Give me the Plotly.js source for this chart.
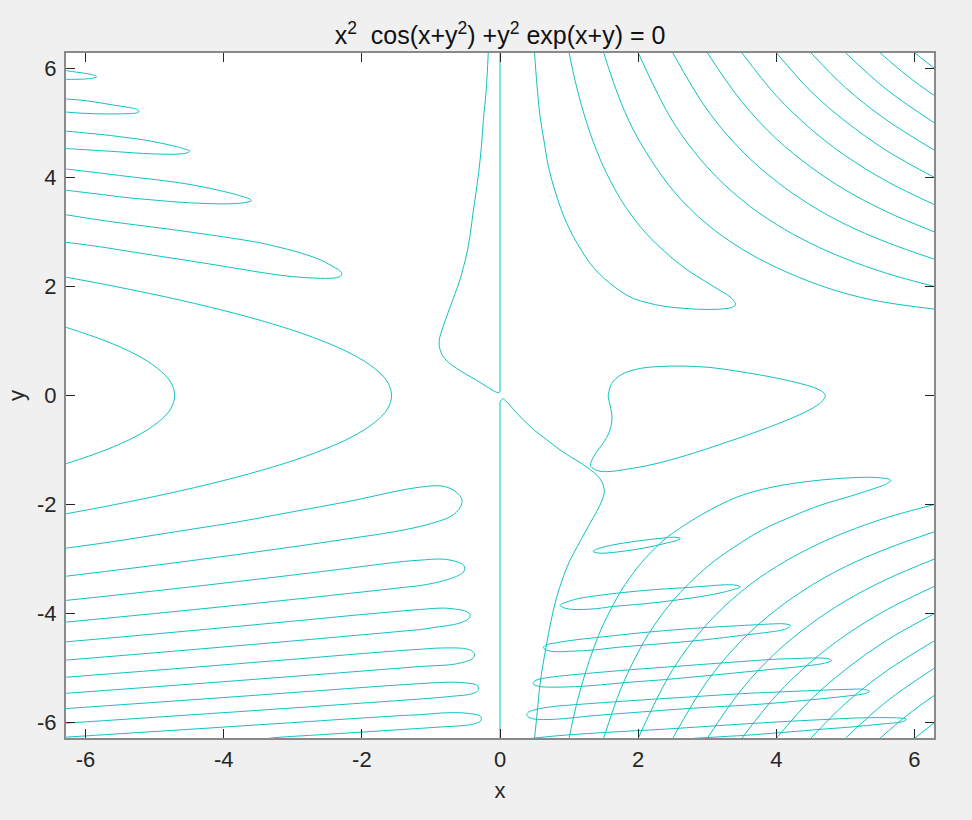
<!DOCTYPE html>
<html><head><meta charset="utf-8">
<script src="https://cdn.plot.ly/plotly-3.0.1.min.js"></script>
<style>html,body{margin:0;padding:0;background:#f0f0f0}</style></head>
<body><div id="chart" style="width:972px;height:820px"></div>
<script>
const titleText = "x<sup>2</sup>  cos(x+y<sup>2</sup>) +y<sup>2</sup> exp(x+y) = 0";
const tickValues = [-6,-4,-2,0,2,4,6];
const tickLabels = ["-6","-4","-2","0","2","4","6"];

const arcA_x = [-6.28,-5.71,-5.27,-4.96,-4.77,-4.71,-4.77,-4.96,-5.27,-5.71,-6.28];
const arcA_y = [1.25,1,0.75,0.5,0.25,0,-0.25,-0.5,-0.75,-1,-1.25];
const arcB_x = [-6.28,-5.57,-4.63,-3.82,-3.13,-2.57,-2.13,-1.82,-1.63,-1.57,-1.63,-1.82,-2.13,-2.57,-3.13,-3.82,-4.63,-5.57,-6.28];
const arcB_y = [2.17,2,1.75,1.5,1.25,1,0.75,0.5,0.25,0,-0.25,-0.5,-0.75,-1,-1.25,-1.5,-1.75,-2,-2.17];

const upLobe1_x = [-6.28,-5.8,-5.4,-4.9,-4.44,-3.95,-3.47,-3.2,-2.99,-2.78,-2.6,-2.46,-2.37,-2.31,-2.29,-2.32,-2.41,-2.57,-2.75,-2.98,-3.23,-3.47,-3.95,-4.44,-4.9,-5.4,-5.8,-6.28];
const upLobe1_y = [2.81,2.73,2.65,2.55,2.46,2.36,2.26,2.21,2.18,2.16,2.15,2.15,2.16,2.19,2.24,2.29,2.36,2.47,2.56,2.65,2.73,2.8,2.9,2.99,3.07,3.15,3.22,3.315];
const upLobe2_x = [-6.28,-5.85,-5.4,-5.05,-4.68,-4.4,-4.2,-4.02,-3.86,-3.74,-3.65,-3.6,-3.62,-3.7,-3.86,-4.02,-4.2,-4.44,-4.68,-5.05,-5.4,-5.85,-6.28];
const upLobe2_y = [3.765,3.7,3.63,3.59,3.55,3.53,3.52,3.515,3.52,3.53,3.55,3.57,3.6,3.64,3.7,3.75,3.8,3.86,3.91,3.97,4.02,4.09,4.155];
const upLobe3_x = [-6.28,-5.95,-5.64,-5.4,-5.16,-4.95,-4.73,-4.6,-4.52,-4.49,-4.56,-4.73,-4.95,-5.16,-5.4,-5.64,-5.95,-6.28];
const upLobe3_y = [4.53,4.505,4.48,4.46,4.44,4.43,4.425,4.435,4.455,4.485,4.52,4.58,4.64,4.69,4.73,4.77,4.81,4.85];
const upLobe4_x = [-6.28,-6.08,-5.89,-5.72,-5.56,-5.4,-5.28,-5.23,-5.23,-5.28,-5.4,-5.56,-5.72,-5.89,-6.08,-6.28];
const upLobe4_y = [5.2,5.18,5.17,5.165,5.165,5.17,5.18,5.2,5.225,5.26,5.29,5.32,5.355,5.39,5.42,5.44];
const upLobe5_x = [-6.28,-6.15,-6.03,-5.9,-5.84,-5.88,-5.98,-6.12,-6.28];
const upLobe5_y = [5.8,5.8,5.805,5.82,5.845,5.875,5.905,5.93,5.96];

const lowLobe1_x = [-6.28,-5.6,-5,-4.4,-3.8,-3.2,-2.6,-2.1,-1.7,-1.4,-1.15,-0.92,-0.8,-0.68,-0.6,-0.55,-0.57,-0.63,-0.73,-0.87,-1.15,-1.4,-1.7,-2.1,-2.6,-3.2,-3.8,-4.4,-5,-5.6,-6.28];
const lowLobe1_y = [-2.8,-2.68,-2.56,-2.44,-2.32,-2.18,-2.04,-1.92,-1.81,-1.73,-1.68,-1.655,-1.67,-1.73,-1.81,-1.92,-2.04,-2.14,-2.23,-2.3,-2.4,-2.468,-2.535,-2.61,-2.704,-2.812,-2.917,-3.018,-3.116,-3.21,-3.315];
const lowLobe2_x = [-6.28,-5.6,-5,-4.4,-3.8,-3.2,-2.6,-2.1,-1.7,-1.4,-1.15,-0.87,-0.72,-0.6,-0.53,-0.51,-0.53,-0.6,-0.74,-0.92,-1.15,-1.4,-1.7,-2.1,-2.6,-3.2,-3.8,-4.4,-5,-5.6,-6.28];
const lowLobe2_y = [-3.759,-3.667,-3.585,-3.5,-3.413,-3.324,-3.233,-3.154,-3.09,-3.045,-3.02,-3,-3.02,-3.06,-3.11,-3.17,-3.24,-3.3,-3.37,-3.43,-3.486,-3.521,-3.564,-3.619,-3.688,-3.768,-3.847,-3.924,-4,-4.074,-4.157];
const lowLobe3_x = [-6.28,-5.6,-5,-4.4,-3.8,-3.2,-2.6,-2.1,-1.7,-1.4,-1.15,-0.82,-0.64,-0.51,-0.45,-0.43,-0.45,-0.51,-0.66,-0.87,-1.15,-1.4,-1.7,-2.1,-2.6,-3.2,-3.8,-4.4,-5,-5.6,-6.28];
const lowLobe3_y = [-4.519,-4.443,-4.375,-4.306,-4.236,-4.164,-4.091,-4.03,-3.985,-3.95,-3.925,-3.9,-3.92,-3.95,-3.99,-4.04,-4.09,-4.14,-4.2,-4.24,-4.293,-4.322,-4.357,-4.402,-4.459,-4.525,-4.591,-4.656,-4.72,-4.783,-4.854];
const lowLobe4_x = [-6.28,-5.6,-5,-4.4,-3.8,-3.2,-2.6,-2.1,-1.7,-1.4,-1.15,-0.92,-0.72,-0.53,-0.43,-0.385,-0.37,-0.385,-0.43,-0.55,-0.72,-0.92,-1.15,-1.4,-1.7,-2.1,-2.6,-3.2,-3.8,-4.4,-5,-5.6,-6.28];
const lowLobe4_y = [-5.167,-5.101,-5.042,-4.982,-4.921,-4.86,-4.798,-4.745,-4.705,-4.675,-4.655,-4.635,-4.63,-4.64,-4.67,-4.71,-4.76,-4.81,-4.85,-4.9,-4.94,-4.955,-4.971,-4.996,-5.026,-5.066,-5.115,-5.173,-5.231,-5.288,-5.344,-5.4,-5.463];
const lowLobe5_x = [-6.28,-5.6,-5,-4.4,-3.8,-3.2,-2.6,-2.1,-1.7,-1.4,-1.15,-0.88,-0.63,-0.45,-0.36,-0.32,-0.31,-0.32,-0.36,-0.47,-0.63,-0.88,-1.15,-1.4,-1.7,-2.1,-2.6,-3.2,-3.8,-4.4,-5,-5.6,-6.28];
const lowLobe5_y = [-5.743,-5.683,-5.63,-5.577,-5.523,-5.468,-5.413,-5.367,-5.33,-5.305,-5.285,-5.265,-5.26,-5.28,-5.3,-5.33,-5.37,-5.41,-5.45,-5.49,-5.51,-5.54,-5.568,-5.59,-5.617,-5.652,-5.697,-5.749,-5.801,-5.852,-5.903,-5.954,-6.011];
const lowLobe6_x = [-6.28,-5.6,-5,-4.4,-3.8,-3.2,-2.6,-2.1,-1.7,-1.4,-1.15,-0.85,-0.58,-0.41,-0.32,-0.28,-0.27,-0.28,-0.32,-0.43,-0.58,-0.85,-1.15,-1.4,-1.7,-2.1,-2.6,-3.2,-3.35];
const lowLobe6_y = [-6.267,-6.213,-6.164,-6.116,-6.066,-6.017,-5.967,-5.925,-5.893,-5.87,-5.855,-5.825,-5.82,-5.84,-5.86,-5.89,-5.93,-5.97,-6,-6.04,-6.06,-6.08,-6.106,-6.126,-6.151,-6.183,-6.223,-6.271,-6.29];

const centreUpper_x = [-0.17,-0.2,-0.24,-0.27,-0.31,-0.35,-0.39,-0.43,-0.48,-0.53,-0.58,-0.65,-0.72,-0.78,-0.84,-0.875,-0.88,-0.86,-0.82,-0.74,-0.63,-0.49,-0.34,-0.2,-0.07,-0.02];
const centreUpper_y = [6.29,5.6,5.06,4.55,4.08,3.7,3.35,2.97,2.61,2.35,2.12,1.87,1.63,1.42,1.2,1.05,0.92,0.81,0.71,0.6,0.5,0.39,0.28,0.17,0.07,0.05];
const stemUpper_x = [-0.02,0,0];
const stemUpper_y = [0.05,0.07,6.29];
const stemLower_x = [0,0];
const stemLower_y = [-6.29,-0.12];
const centreLower_x = [0,0.04,0.1,0.22,0.34,0.5,0.675,0.84,1.01,1.16,1.3,1.4,1.47,1.51,1.49,1.44,1.35,1.245,1.12,1.01,0.91,0.82,0.74,0.675,0.62,0.58,0.54,0.5];
const centreLower_y = [-0.12,-0.06,-0.12,-0.29,-0.45,-0.64,-0.81,-0.97,-1.116,-1.23,-1.355,-1.46,-1.57,-1.74,-1.88,-2.03,-2.24,-2.476,-2.77,-3.03,-3.35,-3.7,-4.13,-4.56,-4.95,-5.29,-5.8,-6.29];

const hookUpper_x = [0.5,0.535,0.58,0.64,0.7,0.78,0.87,0.96,1.06,1.18,1.3,1.44,1.59,1.75,1.93,2.14,2.36,2.65,2.94,3.1,3.23,3.34,3.41,3.39,3.33,3.13,2.95,2.75,2.55,2.36,2.2,2.03,1.85,1.7,1.5,1.4,1.3,1.22,1.15,1.07,1.0];
const hookUpper_y = [6.29,5.7,5.12,4.65,4.2,3.82,3.47,3.18,2.92,2.66,2.43,2.23,2.06,1.91,1.78,1.7,1.64,1.6,1.58,1.58,1.59,1.61,1.66,1.73,1.81,1.97,2.11,2.27,2.46,2.67,2.86,3.1,3.4,3.7,4.19,4.49,4.83,5.15,5.46,5.87,6.29];
const upper3_x = [1.5,1.75,2,2.5,3,3.5,4,4.7,5.4,6.29];
const upper3_y = [6.29,5.38,4.71,3.77,3.14,2.69,2.35,1.99,1.75,1.585];
const upper4_x = [2,2.5,3,3.5,4,4.5,5,5.6,6.29];
const upper4_y = [6.29,5.03,4.19,3.59,3.14,2.79,2.51,2.24,2.0];
const upper5_x = [2.5,3,3.5,4,4.5,5,5.6,6.29];
const upper5_y = [6.29,5.24,4.49,3.93,3.49,3.14,2.81,2.5];
const upper6_x = [3,3.5,4,4.5,5,5.6,6.29];
const upper6_y = [6.29,5.39,4.71,4.19,3.77,3.37,3.0];
const upper7_x = [3.5,4,4.5,5,5.6,6.29];
const upper7_y = [6.29,5.5,4.89,4.4,3.93,3.5];
const upper8_x = [4,4.5,5,5.6,6.29];
const upper8_y = [6.29,5.58,5.03,4.49,4.0];
const upper9_x = [4.5,5,5.6,6.29];
const upper9_y = [6.29,5.65,5.05,4.5];
const upper10_x = [5,5.6,6.29];
const upper10_y = [6.29,5.61,5.0];
const upper11_x = [5.5,5.9,6.29];
const upper11_y = [6.29,5.86,5.5];
const upper12_x = [6,6.29];
const upper12_y = [6.29,6.0];

const hookLower_x = [1,1.1,1.23,1.36,1.5,1.75,2,2.2,2.41,2.557,2.94,3.43,3.91,4.39,4.87,5.354,5.57,5.64,5.66,5.62,5.57,5.11,4.63,4.15,3.81,3.5,3,2.5,2.2,2,1.75,1.5];
const hookLower_y = [-6.29,-5.71,-5.11,-4.62,-4.19,-3.59,-3.14,-2.86,-2.61,-2.476,-2.17,-1.864,-1.69,-1.588,-1.526,-1.5,-1.52,-1.54,-1.563,-1.6,-1.636,-1.833,-2.016,-2.26,-2.457,-2.69,-3.14,-3.77,-4.28,-4.71,-5.38,-6.29];
const lower4_x = [2,2.5,3,3.5,4,4.5,5,5.6,6.29];
const lower4_y = [-6.29,-5.03,-4.19,-3.59,-3.14,-2.79,-2.51,-2.24,-2.0];
const lower5_x = [2.5,3,3.5,4,4.5,5,5.6,6.29];
const lower5_y = [-6.29,-5.24,-4.49,-3.93,-3.49,-3.14,-2.81,-2.5];
const lower6_x = [3,3.5,4,4.5,5,5.6,6.29];
const lower6_y = [-6.29,-5.39,-4.71,-4.19,-3.77,-3.37,-3.0];
const lower7_x = [3.5,4,4.5,5,5.6,6.29];
const lower7_y = [-6.29,-5.5,-4.89,-4.4,-3.93,-3.5];
const lower8_x = [4,4.5,5,5.6,6.29];
const lower8_y = [-6.29,-5.58,-5.03,-4.49,-4.0];
const lower9_x = [4.5,5,5.6,6.29];
const lower9_y = [-6.29,-5.65,-5.05,-4.5];
const lower10_x = [5,5.6,6.29];
const lower10_y = [-6.29,-5.61,-5.0];
const lower11_x = [5.5,5.9,6.29];
const lower11_y = [-6.29,-5.86,-5.5];
const lower12_x = [6,6.29];
const lower12_y = [-6.29,-6.0];

const ring1_x = [1.35,1.4,1.5,1.68,1.88,2.15,2.41,2.52,2.61,2.56,2.43,2.27,2.08,1.88,1.7,1.54,1.42,1.35];
const ring1_y = [-2.86,-2.82,-2.78,-2.73,-2.69,-2.645,-2.61,-2.6,-2.62,-2.66,-2.7,-2.75,-2.8,-2.84,-2.87,-2.89,-2.89,-2.86];
const ring2_x = [0.87,0.9,0.96,1.12,1.3,1.74,2.25,2.75,3,3.23,3.38,3.45,3.48,3.4,3.23,2.9,2.51,2.1,1.64,1.4,1.21,1.05,0.94,0.87];
const ring2_y = [-3.85,-3.82,-3.79,-3.73,-3.69,-3.62,-3.56,-3.52,-3.495,-3.475,-3.475,-3.49,-3.515,-3.55,-3.61,-3.69,-3.76,-3.82,-3.87,-3.91,-3.925,-3.925,-3.9,-3.85];
const ring3_x = [0.63,0.66,0.8,1.05,1.4,2.15,2.94,3.35,3.71,3.95,4.12,4.21,4.12,3.9,3.57,2.9,2.17,1.7,1.35,1.05,0.82,0.7,0.63];
const ring3_y = [-4.63,-4.58,-4.54,-4.49,-4.44,-4.34,-4.26,-4.23,-4.205,-4.19,-4.19,-4.22,-4.29,-4.34,-4.39,-4.49,-4.57,-4.62,-4.67,-4.69,-4.7,-4.68,-4.63];
const ring4_x = [0.48,0.5,0.62,0.85,1.25,2,2.75,3.5,3.96,4.3,4.6,4.76,4.8,4.7,4.44,3.8,3,2.4,1.78,1.35,1.01,0.75,0.56,0.48];
const ring4_y = [-5.29,-5.24,-5.19,-5.15,-5.1,-5.02,-4.95,-4.88,-4.84,-4.825,-4.815,-4.83,-4.865,-4.91,-4.96,-5.04,-5.14,-5.21,-5.27,-5.32,-5.345,-5.35,-5.335,-5.29];
const ring5_x = [0.386,0.41,0.52,0.75,1.11,2,2.75,3.5,4.2,4.68,5.05,5.26,5.35,5.28,5.05,4.68,3.8,2.75,2,1.3,0.9,0.63,0.46,0.386];
const ring5_y = [-5.86,-5.81,-5.76,-5.71,-5.67,-5.59,-5.53,-5.47,-5.43,-5.405,-5.39,-5.39,-5.425,-5.47,-5.51,-5.56,-5.66,-5.74,-5.81,-5.88,-5.93,-5.945,-5.925,-5.86];
const ring6_x = [0.46,0.85,1.54,2.4,3.23,4,4.68,5.2,5.64,5.82,5.885,5.84,5.5,5.1,4.68,4.2,3.71,3.2,2.8];
const ring6_y = [-6.29,-6.24,-6.18,-6.12,-6.05,-5.99,-5.945,-5.915,-5.91,-5.92,-5.94,-5.98,-6.03,-6.08,-6.12,-6.17,-6.22,-6.26,-6.29];

const island_x = [1.573,1.616,1.76,2.03,2.32,2.65,3.04,3.43,3.91,4.29,4.56,4.68,4.71,4.655,4.49,4.15,3.67,3.18,2.7,2.22,1.83,1.54,1.398,1.316,1.312,1.375,1.495,1.582,1.621,1.6,1.567,1.573];
const island_y = [0.04,0.22,0.386,0.496,0.533,0.539,0.515,0.447,0.343,0.238,0.14,0.055,-0.006,-0.117,-0.258,-0.454,-0.686,-0.9,-1.097,-1.262,-1.354,-1.397,-1.372,-1.3,-1.25,-1.08,-0.87,-0.67,-0.423,-0.21,-0.024,0.04];

const curves = [
 [arcA_x,arcA_y],[arcB_x,arcB_y],
 [upLobe1_x,upLobe1_y],[upLobe2_x,upLobe2_y],[upLobe3_x,upLobe3_y],[upLobe4_x,upLobe4_y],[upLobe5_x,upLobe5_y],
 [lowLobe1_x,lowLobe1_y],[lowLobe2_x,lowLobe2_y],[lowLobe3_x,lowLobe3_y],[lowLobe4_x,lowLobe4_y],[lowLobe5_x,lowLobe5_y],[lowLobe6_x,lowLobe6_y],
 [centreUpper_x,centreUpper_y],[centreLower_x,centreLower_y],
 [hookUpper_x,hookUpper_y],[upper3_x,upper3_y],[upper4_x,upper4_y],[upper5_x,upper5_y],[upper6_x,upper6_y],[upper7_x,upper7_y],[upper8_x,upper8_y],[upper9_x,upper9_y],[upper10_x,upper10_y],[upper11_x,upper11_y],[upper12_x,upper12_y],
 [hookLower_x,hookLower_y],[lower4_x,lower4_y],[lower5_x,lower5_y],[lower6_x,lower6_y],[lower7_x,lower7_y],[lower8_x,lower8_y],[lower9_x,lower9_y],[lower10_x,lower10_y],[lower11_x,lower11_y],[lower12_x,lower12_y],
 [ring1_x,ring1_y],[ring2_x,ring2_y],[ring3_x,ring3_y],[ring4_x,ring4_y],[ring5_x,ring5_y],[ring6_x,ring6_y],
 [island_x,island_y]
];
const stems = [[stemUpper_x,stemUpper_y],[stemLower_x,stemLower_y]];

const traces = curves.map(c => ({
  type:'scatter', mode:'lines', x:c[0], y:c[1], hoverinfo:'skip', showlegend:false,
  line:{color:'#10c2c2', width:1, shape:'spline', smoothing:1, simplify:false}
})).concat(stems.map(c => ({
  type:'scatter', mode:'lines', x:c[0], y:c[1], hoverinfo:'skip', showlegend:false,
  line:{color:'#10c2c2', width:1, shape:'linear', simplify:false}
})));

const fontFam = '"Liberation Sans", Arial, sans-serif';
const axisBase = {
  tickmode:'array', tickvals:tickValues, ticktext:tickLabels,
  range:[-6.2832,6.2832], showgrid:false, zeroline:false, showline:true,
  mirror:'ticks', linecolor:'#8a8a8a', linewidth:2,
  ticks:'inside', ticklen:9, tickwidth:1, tickcolor:'#262626',
  tickfont:{family:fontFam, size:22, color:'#262626'}
};
const layout = {
  width:972, height:820, autosize:false,
  paper_bgcolor:'#f0f0f0', plot_bgcolor:'#ffffff', showlegend:false,
  margin:{l:66, r:38, t:53, b:82, pad:0},
  title:{text:titleText, font:{family:fontFam, size:25, color:'#111'}, x:500/972, xanchor:'center', y:0.957, yanchor:'middle'},
  xaxis:Object.assign({}, axisBase, {ticklabelstandoff:1, title:{text:'x', font:{family:fontFam, size:22, color:'#262626'}, standoff:11}}),
  yaxis:Object.assign({}, axisBase, {ticklabelstandoff:3, title:{text:'y', font:{family:fontFam, size:22, color:'#262626'}, standoff:6}})
};
Plotly.newPlot('chart', traces, layout, {displayModeBar:false, staticPlot:true});
</script></body></html>
